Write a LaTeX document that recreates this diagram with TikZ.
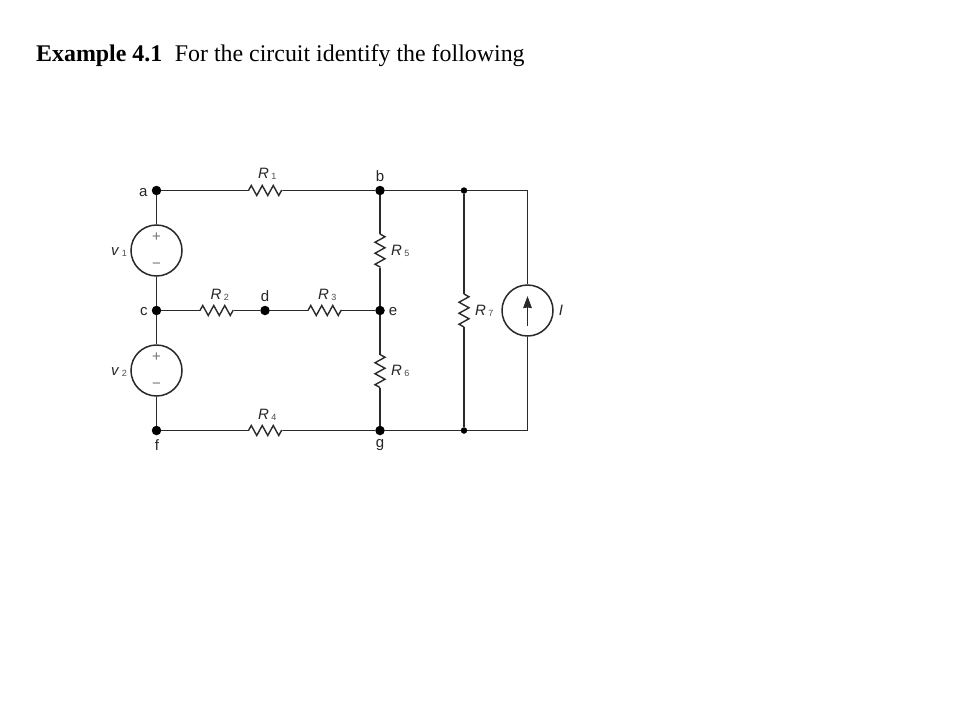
\documentclass[tikz,border=0pt]{standalone}
\usepackage{fontspec}
\setmainfont{Liberation Sans}
\newfontfamily\titlefont{Liberation Serif}
\usetikzlibrary{decorations.pathmorphing,arrows.meta}
\definecolor{wirecol}{HTML}{2a2a2a}
\newcommand{\lblsub}[2]{\textit{#1}\hspace{2.4pt}\raisebox{-1.5pt}{\fontsize{9}{10}\selectfont\color{black!70}#2}}
\tikzset{
  x=1pt,y=-1pt,
  wire/.style={draw=wirecol,line width=1.7pt},
  resistor/.style={draw=wirecol,line width=1.4pt,line join=miter,decorate,decoration={zigzag,segment length=11pt,amplitude=5pt}},
  bigdot/.style={circle,fill=black,inner sep=0pt,minimum size=9.5pt},
  smalldot/.style={circle,fill=black,inner sep=0pt,minimum size=6.5pt},
  source/.style={circle,draw=wirecol,line width=1.5pt,inner sep=0pt,minimum size=51pt},
  lbl/.style={inner sep=0pt,anchor=base,text=black!85,font=\fontsize{15}{16}\selectfont},
  rlbl/.style={lbl,anchor=base west},
  sign/.style={inner sep=0pt,text=black!55,font=\fontsize{15}{16}\selectfont},
}
\begin{document}
\begin{tikzpicture}
\useasboundingbox (0,0) rectangle (960,720);
\fill[white] (0,0) rectangle (960,720);
\node[anchor=base west,inner sep=0pt,font=\titlefont\fontsize{23.9}{26}\selectfont] (title) at (36,61) {\textbf{Example 4.1}\hspace{12.5pt}For the circuit identify the following};

% junctions
\node[bigdot] (a) at (156.5,190.5) {};
\node[bigdot] (b) at (380,190.5) {};
\node[bigdot] (c) at (156.5,310.5) {};
\node[bigdot] (d) at (265,310.5) {};
\node[bigdot] (e) at (380,310.5) {};
\node[bigdot] (f) at (156.5,430.5) {};
\node[bigdot] (g) at (380,430.5) {};
\node[smalldot] (j1) at (464,190.5) {};
\node[smalldot] (j2) at (464,430.5) {};
\coordinate (tr) at (527.5,190.5);
\coordinate (br) at (527.5,430.5);

% sources
\node[source] (v1) at (156.5,250.5) {};
\node[source] (v2) at (156.5,370.5) {};
\node[source] (I) at (527.5,310.5) {};
\node[sign] (p1) at (156.5,237) {+};
\node[sign] (m1) at (156.5,266) {−};
\node[sign] (p2) at (156.5,357) {+};
\node[sign] (m2) at (156.5,386) {−};
\coordinate (Ia) at (527.5,326);
\coordinate (Ib) at (527.5,296);
\draw[wire,-{Stealth[length=12pt,width=8.5pt,inset=0.5pt]}] (Ia) -- (Ib);

% resistor ends
\coordinate (R1a) at (248.5,190.5); \coordinate (R1b) at (282.5,190.5);
\coordinate (R2a) at (200,310.5);   \coordinate (R2b) at (233.5,310.5);
\coordinate (R3a) at (308,310.5);   \coordinate (R3b) at (342,310.5);
\coordinate (R4a) at (248.5,430.5); \coordinate (R4b) at (282.5,430.5);
\coordinate (R5a) at (380,234);     \coordinate (R5b) at (380,267.5);
\coordinate (R6a) at (380,354.5);   \coordinate (R6b) at (380,387.5);
\coordinate (R7a) at (464,294);     \coordinate (R7b) at (464,327);

% wires
\draw[wire] (a) -- (R1a);
\draw[resistor] (R1a) -- (R1b);
\draw[wire] (R1b) -- (b);
\draw[wire] (b) -- (j1);
\draw[wire] (j1) -- (tr) -- (I.north);
\draw[wire] (I.south) -- (br) -- (j2);
\draw[wire] (j2) -- (g);
\draw[wire] (j1) -- (R7a);
\draw[resistor] (R7a) -- (R7b);
\draw[wire] (R7b) -- (j2);
\draw[wire] (a) -- (v1.north);
\draw[wire] (v1.south) -- (c);
\draw[wire] (c) -- (v2.north);
\draw[wire] (v2.south) -- (f);
\draw[wire] (c) -- (R2a);
\draw[resistor] (R2a) -- (R2b);
\draw[wire] (R2b) -- (d);
\draw[wire] (d) -- (R3a);
\draw[resistor] (R3a) -- (R3b);
\draw[wire] (R3b) -- (e);
\draw[wire] (f) -- (R4a);
\draw[resistor] (R4a) -- (R4b);
\draw[wire] (R4b) -- (g);
\draw[wire] (b) -- (R5a);
\draw[resistor] (R5a) -- (R5b);
\draw[wire] (R5b) -- (e);
\draw[wire] (e) -- (R6a);
\draw[resistor] (R6a) -- (R6b);
\draw[wire] (R6b) -- (g);

% labels
\node[lbl] (la) at (143.3,196) {a};
\node[lbl] (lb) at (380,181.7) {b};
\node[lbl] (lc) at (143.8,315.7) {c};
\node[lbl] (ld) at (265,301) {d};
\node[lbl] (le) at (393,315.5) {e};
\node[lbl] (lf) at (157,450) {f};
\node[lbl] (lg) at (380,447.5) {g};
\node[rlbl] (lR1) at (258,178) {\lblsub{R}{1}};
\node[rlbl] (lR2) at (210.5,299) {\lblsub{R}{2}};
\node[rlbl] (lR3) at (318,299) {\lblsub{R}{3}};
\node[rlbl] (lR4) at (258,419) {\lblsub{R}{4}};
\node[rlbl] (lR5) at (391,255) {\lblsub{R}{5}};
\node[rlbl] (lR6) at (391,375) {\lblsub{R}{6}};
\node[rlbl] (lR7) at (475,315) {\lblsub{R}{7}};
\node[rlbl] (lv1) at (111,255) {\lblsub{v}{1}};
\node[rlbl] (lv2) at (111,375) {\lblsub{v}{2}};
\node[lbl] (lI) at (561,315) {\textit{I}};
\end{tikzpicture}
\end{document}
